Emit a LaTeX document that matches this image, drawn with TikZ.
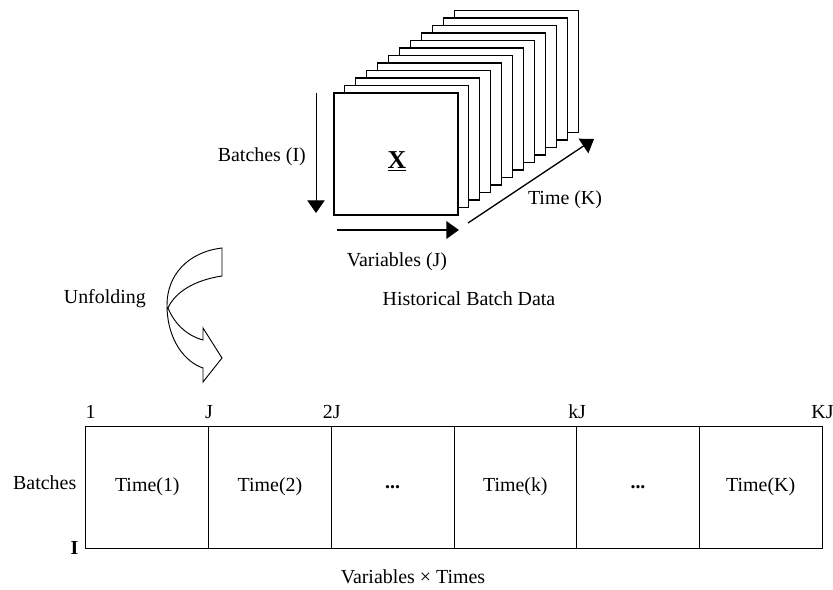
\documentclass[tikz,border=0pt]{standalone}
\usepackage{fontspec}
\setmainfont{Liberation Serif}
\usepackage{tikz}
\usetikzlibrary{calc, arrows.meta}
\tikzstyle{sheet}=[
    draw=black,     % black border of every slice
    fill=white,     % a slice hides the ones behind it
    rectangle,      % the slices are squares
    line width=0.9pt,
    minimum width=3.72cm,
    minimum height=3.66cm]
\tikzstyle{cell}=[
    draw=black,     % black border of every block
    rectangle,      % one block for each time
    line width=0.8pt,
    minimum width=3.68cm,
    minimum height=3.66cm]
\tikzstyle{lbl}=[inner sep=0pt]
\tikzstyle{axis}=[-{Triangle[length=0.38cm, width=0.52cm]}]

\begin{document}
\begin{tikzpicture}[x=0.03cm, y=-0.03cm, font=\fontsize{17}{20}\selectfont]
        \useasboundingbox (0,0) rectangle (833,590);

        % Draw the slices, the back one first
        \coordinate (f) at (396,154);
        \foreach \i in {11,10,...,1}
            \node[sheet] (s\i) at ($(f)+(\i*10.95,-\i*7.5)$) {};
        \node[sheet] (x) at (f) {};
        \node[lbl, font=\fontsize{22}{26}\selectfont\bfseries] (xl) at (397,161) {\underline{X}};

        % Axes of the batch data
        \coordinate (bt) at (316,93);
        \coordinate (bb) at (316,213);
        \coordinate (vl) at (337,230);
        \coordinate (vr) at (459,230);
        \coordinate (tl) at (468,223);
        \coordinate (tr) at (594,139);
        \draw[axis, line width=0.8pt] (bt) -- (bb);
        \draw[axis, line width=2.2pt] (vl) -- (vr);
        \draw[axis, line width=1.1pt] (tl) -- (tr);

        \node[lbl, anchor=east] (bl) at (306,157) {Batches (I)};
        \node[lbl] (vlab) at (397,262) {Variables (J)};
        \node[lbl] (tlab) at (565,200) {Time (K)};
        \node[lbl] (hist) at (469,299) {Historical Batch Data};
        \node[lbl, anchor=east] (unf) at (146,299) {Unfolding};

        % Curved arrow for the unfolding
        \draw[line width=0.8pt, fill=white] (222,248) -- (222,276)
            .. controls (195,280) and (175,292) .. (168,308)
            .. controls (175,325) and (188,336) .. (203,340)
            -- (203,328) -- (222,358) -- (203,382) -- (203,368)
            .. controls (185,362) and (167,340) .. (167,305)
            .. controls (167,275) and (188,252) .. (222,248) -- cycle;

        % Unfolded matrix
        \node[cell] (t1) at (147.3,487) {Time(1)};
        \node[cell, right of=t1, node distance=3.68cm] (t2) {Time(2)};
        \node[cell, right of=t2, node distance=3.68cm] (t3) {\textbf{...}};
        \node[cell, right of=t3, node distance=3.68cm] (t4) {Time(k)};
        \node[cell, right of=t4, node distance=3.68cm] (t5) {\textbf{...}};
        \node[cell, right of=t5, node distance=3.68cm] (t6) {Time(K)};

        \node[lbl, anchor=base west] (n1) at ($(t1.north west)+(0,-7)$) {1};
        \node[lbl, anchor=base] (nJ) at ($(t1.north east)+(0,-7)$) {J};
        \node[lbl, anchor=base] (n2J) at ($(t2.north east)+(0,-7)$) {2J};
        \node[lbl, anchor=base] (nkJ) at ($(t4.north east)+(0,-7)$) {kJ};
        \node[lbl, anchor=base] (nKJ) at ($(t6.north east)+(0,-7)$) {KJ};
        \node[lbl, anchor=east] (bat) at ($(t1.west)+(-9,-4)$) {Batches};
        \node[lbl, anchor=east, font=\fontsize{17}{20}\selectfont\bfseries] (ib) at ($(t1.south west)+(-7,0)$) {I};
        \node[lbl] (vt) at (413,577) {Variables × Times};
\end{tikzpicture}
\end{document}
